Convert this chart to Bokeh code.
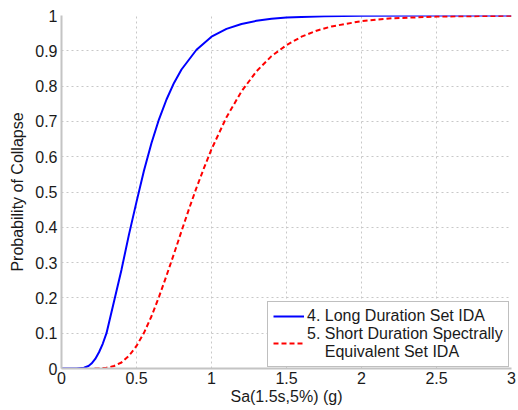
from bokeh.plotting import figure
from bokeh.models import Range1d, FixedTicker, Legend, LegendItem
from bokeh.embed import file_html
from bokeh.resources import INLINE

# Data
sa_long = [0.0, 0.10, 0.15, 0.18, 0.20, 0.225, 0.25, 0.275, 0.30, 0.35, 0.40, 0.45, 0.50, 0.55,
           0.60, 0.65, 0.70, 0.75, 0.80, 0.90, 1.00, 1.10, 1.20, 1.30, 1.40, 1.50,
           1.75, 2.00, 2.50, 3.00]
p_long = [0.0, 0.0, 0.002, 0.007, 0.014, 0.027, 0.046, 0.07, 0.10, 0.19, 0.28, 0.38, 0.472, 0.561,
          0.639, 0.706, 0.762, 0.809, 0.847, 0.903, 0.94, 0.962, 0.976, 0.985, 0.991, 0.994,
          0.998, 0.999, 1.0, 1.0]

sa_short = [0.22, 0.25, 0.30, 0.35, 0.40, 0.45, 0.50, 0.55, 0.60, 0.65, 0.70, 0.75,
            0.80, 0.85, 0.90, 0.95, 1.00, 1.10, 1.20, 1.30, 1.40, 1.50, 1.60, 1.70,
            1.80, 2.00, 2.20, 2.50, 3.00]
p_short = [0.0, 0.0004, 0.002, 0.007, 0.017, 0.036, 0.064, 0.101, 0.148, 0.203, 0.263, 0.325,
           0.389, 0.452, 0.512, 0.568, 0.621, 0.712, 0.785, 0.842, 0.885, 0.916, 0.940, 0.957,
           0.969, 0.984, 0.992, 0.997, 0.9993]

x_ticks = [0, 0.5, 1, 1.5, 2, 2.5, 3]
x_tick_labels = ["0", "0.5", "1", "1.5", "2", "2.5", "3"]
y_ticks = [0, 0.1, 0.2, 0.3, 0.4, 0.5, 0.6, 0.7, 0.8, 0.9, 1.0]
y_tick_labels = ["0", "0.1", "0.2", "0.3", "0.4", "0.5", "0.6", "0.7", "0.8", "0.9", "1"]

label_long = "4. Long Duration Set IDA"
label_short = "5. Short Duration Spectrally\n\u00a0\u00a0\u00a0\u00a0Equivalent Set IDA"

FONT = "Liberation Sans"

p = figure(width=518, height=408, output_backend="svg", toolbar_location=None,
           x_range=Range1d(0, 3), y_range=Range1d(0, 1),
           min_border_left=61, min_border_right=7, min_border_top=15, min_border_bottom=40)
p.outline_line_color = None
p.background_fill_color = "white"
p.border_fill_color = "white"

l1 = p.line(sa_long, p_long, line_color="#0000ff", line_width=2)
l2 = p.line(sa_short, p_short, line_color="#ff0000", line_width=2, line_dash="5 3")

for ax, ticks, labels in ((p.xaxis, x_ticks, x_tick_labels), (p.yaxis, y_ticks, y_tick_labels)):
    ax.ticker = FixedTicker(ticks=ticks)
    ax.major_label_overrides = {t: s for t, s in zip(ticks, labels)}
    ax.minor_tick_line_color = None
    ax.major_tick_in = 0
    ax.major_tick_out = 0
    ax.axis_line_color = "#c4c4c4"
    ax.axis_line_width = 2
    ax.major_label_text_font = FONT
    ax.major_label_text_font_size = "16px"
    ax.major_label_text_color = "#1a1a1a"
    ax.axis_label_text_font = FONT
    ax.axis_label_text_font_size = "16px"
    ax.axis_label_text_font_style = "normal"
    ax.axis_label_text_color = "#1a1a1a"

p.xaxis.axis_label = "Sa(1.5s,5%) (g)"
p.yaxis.axis_label = "Probability of Collapse"
p.xaxis.major_label_standoff = 3
p.xaxis.axis_label_standoff = 1
p.yaxis.major_label_standoff = 4
p.yaxis.axis_label_standoff = 6

for g in (p.xgrid, p.ygrid):
    g.grid_line_color = "#c8c8c8"
    g.grid_line_dash = "2 3"
    g.grid_line_width = 1

legend = Legend(items=[LegendItem(label=label_long, renderers=[l1]),
                       LegendItem(label=label_short, renderers=[l2])],
                location=(206, 1))
legend.label_text_font = FONT
legend.label_text_font_size = "16px"
legend.label_text_color = "#1a1a1a"
legend.border_line_color = "#808080"
legend.border_line_width = 1
legend.background_fill_color = "white"
legend.background_fill_alpha = 1.0
legend.padding = 5
legend.margin = 0
legend.spacing = 0
legend.glyph_width = 31
legend.label_standoff = 3
legend.label_height = 16
legend.glyph_height = 16
p.add_layout(legend, "center")

open("out.html", "w").write(file_html(p, INLINE))
